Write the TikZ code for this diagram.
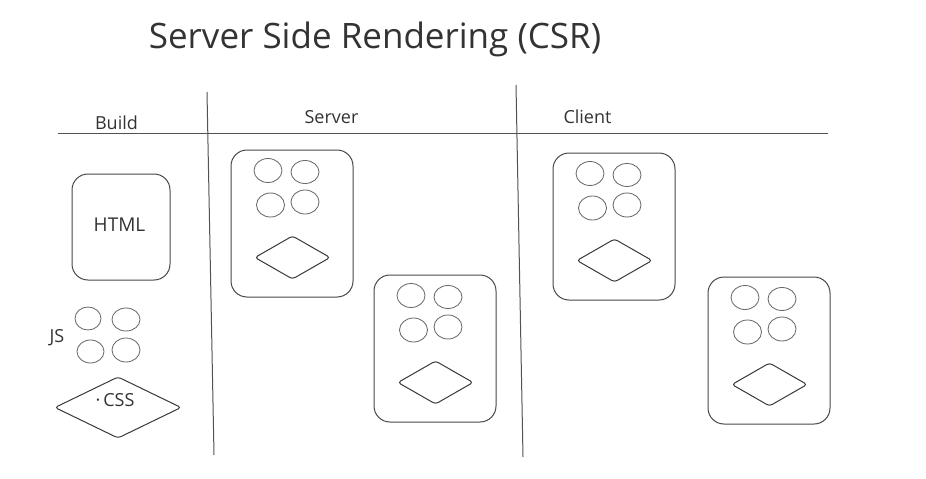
\documentclass[tikz,border=0pt]{standalone}
\usepackage{fontspec}
\setmainfont{Open Sans}
\begin{document}
\begin{tikzpicture}[x=1pt,y=-1pt,
  lane/.style={draw=black!68,line width=1pt},
  card/.style={draw=black!72,line width=1pt,rounded corners=16pt},
  bead/.style={draw=black!58,line width=0.85pt},
  gem/.style={draw=black!78,line width=1pt,rounded corners=3pt},
  lbl/.style={text=black!80,font=\fontsize{18}{20}\selectfont,inner sep=0pt},
]
\useasboundingbox (0,0) rectangle (926,479);
% title
\node[text=black!80,font=\fontsize{35}{40}\selectfont,inner sep=0pt] (title) at (375,39) {Server Side Rendering (CSR)};
% lanes
\coordinate (hl) at (58,133); \coordinate (hr) at (828,133);
\draw[lane] (hl) -- (hr);
\coordinate (v1t) at (207,92); \coordinate (v1b) at (214,455);
\draw[lane] (v1t) -- (v1b);
\coordinate (v2t) at (516,85); \coordinate (v2b) at (523,457);
\draw[lane] (v2t) -- (v2b);
\node[lbl] (build) at (116.5,123) {Build};
\node[lbl] (server) at (331.5,117) {Server};
\node[lbl] (client) at (587.5,117) {Client};
% build column
\draw[card] (72,174) rectangle (170,280);
\node[lbl,font=\fontsize{19}{21}\selectfont] (html) at (119.5,225) {HTML};
\node[lbl] (js) at (57,338) {JS};
\draw[bead] (88,318.5) ellipse (13 and 11.5);
\draw[bead] (126,319.5) ellipse (14 and 11.5);
\draw[bead] (90.5,351.5) ellipse (13.5 and 11.5);
\draw[bead] (126,350) ellipse (14 and 12);
\draw[gem] (55,407.5) -- (118,377) -- (181,407.5) -- (118,438) -- cycle;
\node[lbl] (css) at (115,400) {·\,CSS};
% generic component
\newcommand{\comp}[3]{%
  \begin{scope}[shift={(#1,#2)}]
  \draw[card] (0,0) rectangle (122,147);
  \draw[bead] (37,20.5) ellipse (14 and 12);
  \draw[bead] (74,22) ellipse (14 and 11.5);
  \draw[bead] (39.5,55) ellipse (14 and 12);
  \draw[bead] (74,52) ellipse (14 and 12);
  \draw[gem] (24,107.5) -- (61.5,86) -- (99,107.5) -- (61.5,129) -- cycle;
  \end{scope}}
\comp{231}{150}{s1}
\comp{374}{275}{s2}
\comp{553}{153}{c1}
\comp{708}{277}{c2}
\end{tikzpicture}
\end{document}
